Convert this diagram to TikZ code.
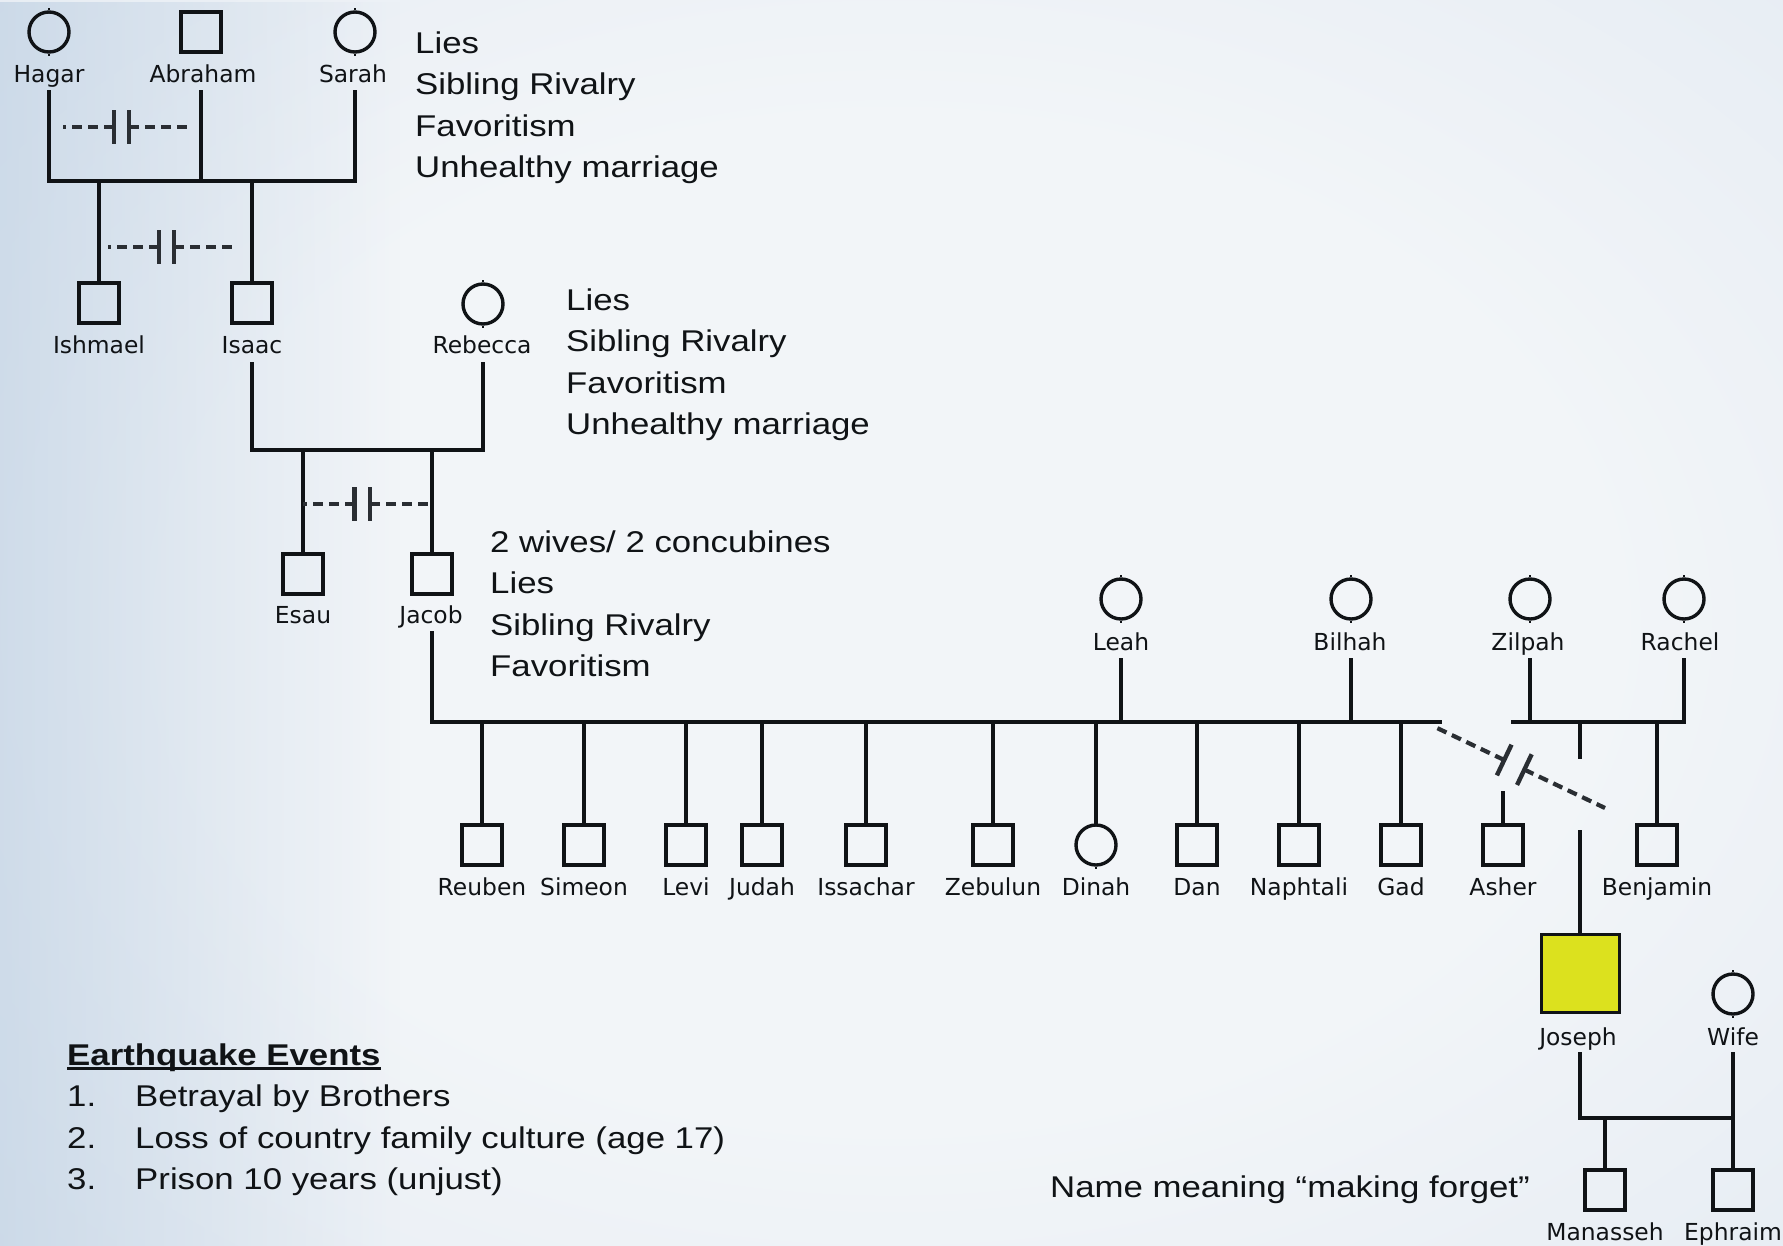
\documentclass[tikz,border=0pt]{standalone}
\usepackage{fontspec}
\setmainfont{Liberation Sans}
\newfontfamily\txtfont[FakeStretch=1.16]{Liberation Sans}
\newfontfamily\lblfont{DejaVu Sans}
\usetikzlibrary{calc,fadings}
\definecolor{ink}{HTML}{101316}
\definecolor{dashink}{HTML}{2A2E33}
\definecolor{bgin}{HTML}{F2F5F8}
\definecolor{bgmid}{HTML}{E3EAF2}
\definecolor{bgout}{HTML}{C6D6E6}
\definecolor{bgedge}{HTML}{BACDE1}
\definecolor{josephfill}{HTML}{DCE11E}
\pgfdeclareradialshading{bgshade}{\pgfpoint{0bp}{0bp}}{color(0bp)=(bgin); color(20bp)=(bgin); color(42bp)=(bgmid); color(62bp)=(bgout); color(72bp)=(bgedge)}
\newcommand\cutmark[2]{%
  \coordinate (cpa) at ($(#1)!0.40!(#2)$);
  \coordinate (cpb) at ($(#1)!0.52!(#2)$);
  \draw[cutdash] (cpa) -- (#1);
  \draw[cutdash] (cpb) -- (#2);
  \draw[cutbar] ($(cpa)!17pt!90:(#2)$) -- ($(cpa)!17pt!-90:(#2)$);
  \draw[cutbar] ($(cpb)!17pt!90:(#2)$) -- ($(cpb)!17pt!-90:(#2)$);
}
\begin{document}
\begin{tikzpicture}[x=1pt,y=-1pt,
  conn/.style={draw=ink, line width=3.8pt, line cap=rect},
  male/.style={draw=ink, line width=3.4pt, rectangle, minimum size=40pt, inner sep=0pt},
  female/.style={draw=ink, line width=3.4pt, circle, minimum size=40pt, inner sep=0pt},
  pname/.style={font=\lblfont\fontsize{23.4}{28}\selectfont, anchor=base, inner sep=0pt, text=ink},
  body/.style={font=\txtfont\fontsize{30}{36}\selectfont, anchor=base west, inner sep=0pt, text=ink},
  cutdash/.style={draw=dashink, line width=4.2pt, dash pattern=on 10pt off 6pt},
  cutbar/.style={draw=dashink, line width=4.4pt},
  stub/.style={draw=ink, line width=2pt}]
\useasboundingbox (0,0) rectangle (1783,1245);
\shade[shading=bgshade] (0,0) rectangle (1783,1245);
\fill[bgedge, path fading=east, fill opacity=0.6] (0,0) rectangle (400,1245);

% ---- generation 1
\node[female] (hagar) at (49,32) {};
\node[pname] (hagarL) at (49,82) {Hagar};
\node[male] (abraham) at (201,32) {};
\node[pname] (abrahamL) at (203,82) {Abraham};
\node[female] (sarah) at (355,32) {};
\node[pname] (sarahL) at (353,82) {Sarah};
\draw[conn] (hagar |- 0,92) |- (sarah |- 0,181) -- (sarah |- 0,92);
\draw[conn] (abraham |- 0,92) -- (abraham |- 0,181);
\node[body] (t1a) at (415,53) {Lies};
\node[body] (t1b) at (415,94.5) {Sibling Rivalry};
\node[body] (t1c) at (415,136) {Favoritism};
\node[body] (t1d) at (415,177.5) {Unhealthy marriage};
\coordinate (ca1) at (63,127); \coordinate (cb1) at (190,127);
\cutmark{ca1}{cb1}

% ---- generation 2
\node[male] (ishmael) at (99,303) {};
\node[pname] (ishmaelL) at (99,353) {Ishmael};
\node[male] (isaac) at (252,303) {};
\node[pname] (isaacL) at (252,353) {Isaac};
\node[female] (rebecca) at (483,304) {};
\node[pname] (rebeccaL) at (482,353) {Rebecca};
\draw[conn] (ishmael |- 0,181) -- (ishmael.north);
\draw[conn] (isaac |- 0,181) -- (isaac.north);
\coordinate (ca2) at (108,247); \coordinate (cb2) at (235,247);
\cutmark{ca2}{cb2}
\node[body] (t2a) at (566,310) {Lies};
\node[body] (t2b) at (566,351.5) {Sibling Rivalry};
\node[body] (t2c) at (566,393) {Favoritism};
\node[body] (t2d) at (566,434.5) {Unhealthy marriage};
\draw[conn] (isaac |- 0,364) |- (rebecca |- 0,450) -- (rebecca |- 0,364);

% ---- generation 3
\node[male] (esau) at (303,574) {};
\node[pname] (esauL) at (303,623) {Esau};
\node[male] (jacob) at (432,574) {};
\node[pname] (jacobL) at (431,623) {Jacob};
\draw[conn] (esau |- 0,450) -- (esau.north);
\draw[conn] (jacob |- 0,450) -- (jacob.north);
\coordinate (ca3) at (303,504); \coordinate (cb3) at (432,504);
\cutmark{ca3}{cb3}
\node[body] (t3a) at (490,552) {2 wives/ 2 concubines};
\node[body] (t3b) at (490,593.5) {Lies};
\node[body] (t3c) at (490,635) {Sibling Rivalry};
\node[body] (t3d) at (490,676.5) {Favoritism};

% wives
\node[female] (leah) at (1121,599) {};
\node[pname] (leahL) at (1121,650) {Leah};
\node[female] (bilhah) at (1351,599) {};
\node[pname] (bilhahL) at (1350,650) {Bilhah};
\node[female] (zilpah) at (1530,599) {};
\node[pname] (zilpahL) at (1528,650) {Zilpah};
\node[female] (rachel) at (1684,599) {};
\node[pname] (rachelL) at (1680,650) {Rachel};

\coordinate (gapL) at (1440,722);
\coordinate (gapR) at (1513,722);
\draw[conn] (jacob |- 0,633) |- (gapL);
\draw[conn] (gapR) -- (rachel |- 0,722) -- (rachel |- 0,660);
\draw[conn] (leah |- 0,660) -- (leah |- 0,722);
\draw[conn] (bilhah |- 0,660) -- (bilhah |- 0,722);
\draw[conn] (zilpah |- 0,660) -- (zilpah |- 0,722);

% ---- children of Jacob
\foreach \id/\x/\txt in {reuben/482/Reuben, simeon/584/Simeon, levi/686/Levi, judah/762/Judah, issachar/866/Issachar, zebulun/993/Zebulun, dan/1197/Dan, naphtali/1299/Naphtali, gad/1401/Gad, benjamin/1657/Benjamin}{
  \node[male] (\id) at (\x,845) {};
  \node[pname] (\id L) at (\x,895) {\txt};
  \draw[conn] (\id |- 0,722) -- (\id.north);
}
\node[female] (dinah) at (1096,845) {};
\node[pname] (dinahL) at (1096,895) {Dinah};
\draw[conn] (dinah |- 0,722) -- (dinah.north);
\node[male] (asher) at (1503,845) {};
\node[pname] (asherL) at (1503,895) {Asher};
\draw[conn] (asher |- 0,793) -- (asher.north);

% Joseph
\node[male, fill=josephfill, minimum size=78pt, line width=3pt] (joseph) at (1580,973) {};
\node[pname] (josephL) at (1578,1045) {Joseph};
\draw[conn] (joseph |- 0,722) -- (joseph |- 0,757);
\draw[conn] (joseph |- 0,832) -- (joseph.north);
\coordinate (ca4) at (1437,728); \coordinate (cb4) at (1605,808);
\cutmark{ca4}{cb4}

\node[female] (wife) at (1733,994) {};
\node[pname] (wifeL) at (1733,1045) {Wife};
\node[male] (manasseh) at (1605,1190) {};
\node[pname] (manassehL) at (1605,1240) {Manasseh};
\node[male] (ephraim) at (1733,1190) {};
\node[pname] (ephraimL) at (1733,1240) {Ephraim};
\draw[conn] (joseph |- 0,1054) |- (wife |- 0,1118);
\draw[conn] (wife |- 0,1054) -- (ephraim.north);
\draw[conn] (manasseh |- 0,1118) -- (manasseh.north);

% circle stubs
\foreach \n in {hagar,sarah,rebecca,leah,bilhah,zilpah,rachel,dinah,wife}{
  \draw[stub] (\n.north) -- ++(0,-2.5);
  \draw[stub] (\n.south) -- ++(0,2.5);
}

% ---- notes
\node[body] (nm) at (1530,1197) [anchor=base east] {Name meaning “making forget”};
\node[body, font=\txtfont\bfseries\fontsize{30}{36}\selectfont] (eq) at (67,1065) {Earthquake Events};
\draw[draw=ink, line width=2.5pt] ([yshift=-3.5pt]eq.base west) -- ([yshift=-3.5pt]eq.base east);
\node[body] (n1) at (67,1106.5) {1.};
\node[body] (e1) at (135,1106.5) {Betrayal by Brothers};
\node[body] (n2) at (67,1148) {2.};
\node[body] (e2) at (135,1148) {Loss of country family culture (age 17)};
\node[body] (n3) at (67,1189.5) {3.};
\node[body] (e3) at (135,1189.5) {Prison 10 years (unjust)};
\end{tikzpicture}
\end{document}
